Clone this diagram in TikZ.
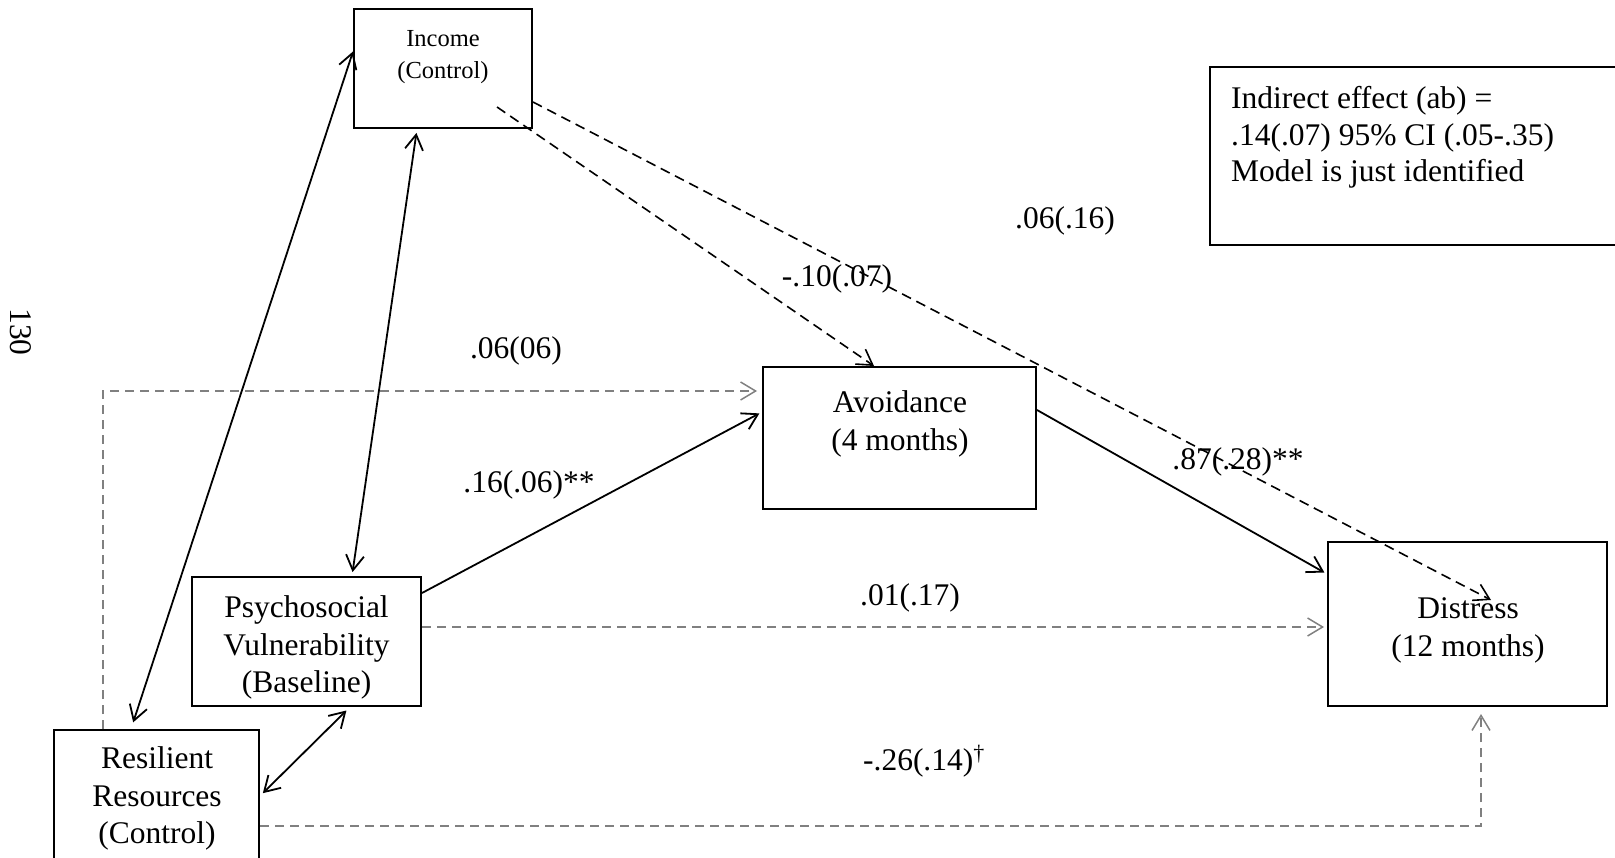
\documentclass[tikz,border=0pt]{standalone}
\usepackage{fontspec}
\setmainfont{Liberation Serif}
\usetikzlibrary{arrows.meta,calc}
\definecolor{pathgray}{RGB}{128,128,128}
\begin{document}
\begin{tikzpicture}[x=1pt,y=-1pt,
  >={Straight Barb[length=15pt,width=18pt]},
  box/.style={draw=black,line width=2pt,inner sep=0pt,rectangle},
  boxtext/.style={font=\fontsize{31.5}{37.5}\selectfont,align=center,inner sep=0pt},
  smalltext/.style={font=\fontsize{24.5}{32}\selectfont,align=center,inner sep=0pt},
  coef/.style={font=\fontsize{31.5}{36}\selectfont,inner sep=0pt,anchor=base},
  solidpath/.style={line width=1.8pt,black},
  blackdash/.style={line width=1.6pt,black,dash pattern=on 10pt off 6pt},
  graydash/.style={line width=1.5pt,pathgray,dash pattern=on 9pt off 6pt}]

\useasboundingbox (0,0) rectangle (1615,858);
\clip (0,0) rectangle (1615,858);

% variable boxes
\node[box,minimum width=178pt,minimum height=119pt] (inc) at (443,68.5) {};
\node[smalltext] (inctext) at (443,57.5) {Income\\(Control)};

\node[box,minimum width=273pt,minimum height=142pt] (avo) at (899.5,438) {};
\node[boxtext] (avotext) at (900,424) {Avoidance\\(4 months)};

\node[box,minimum width=279pt,minimum height=164pt] (dis) at (1467.5,624) {};
\node[boxtext] (distext) at (1468,630.6) {Distress\\(12 months)};

\node[box,minimum width=229pt,minimum height=129pt] (psy) at (306.5,641.5) {};
\node[boxtext] (psytext) at (306.5,647.5) {Psychosocial\\Vulnerability\\(Baseline)};

\node[box,minimum width=205pt,minimum height=170pt] (res) at (156.5,815) {};
\node[boxtext] (restext) at (157,798.6) {Resilient\\Resources\\(Control)};

% summary box
\node[box,minimum width=450pt,minimum height=178pt] (note) at (1435,156) {};
\node[font=\fontsize{31.5}{36.5}\selectfont,align=left,inner sep=0pt,anchor=north west]
  (notetext) at (1231,86.3) {Indirect effect (ab) =\\.14(.07) 95\% CI (.05-.35)\\Model is just identified};

% page number
\node[font=\fontsize{31.5}{36}\selectfont,inner sep=0pt,rotate=-90] (pagenum) at (21,332) {130};

% covariances
\draw[solidpath,<->,shorten <=7pt] ([xshift=78pt]res.north west) -- ([yshift=17pt]inc.west);
\draw[solidpath,<->,shorten <=4pt,shorten >=4pt] ([xshift=-26pt]inc.south) -- ([xshift=45.5pt]psy.north);
\draw[solidpath,<->,shorten <=5pt,shorten >=4pt] ([xshift=43.5pt]psy.south) -- ([yshift=19pt]res.east);

% structural paths
\draw[solidpath,->,shorten >=3pt] ([yshift=-17pt]psy.north east) -- ([yshift=26pt]avo.west);
\draw[solidpath,->,shorten >=3pt] ([yshift=28pt]avo.east) -- ([yshift=50pt]dis.west);
\draw[blackdash,->] ([xshift=54pt,yshift=-38.5pt]inc.center) -- ([xshift=-25.5pt]avo.north);
\draw[blackdash,->] ([yshift=-33.5pt]inc.east) -- ([xshift=23.5pt,yshift=24pt]dis.center);
\draw[graydash,->,shorten >=5pt] ([xshift=50pt]res.north west) |- ([yshift=47pt]avo.west);
\draw[graydash,->,shorten >=3pt] (psy.east |- 0,627) -- (dis.west |- 0,627);
\draw[graydash,->,shorten >=7pt] (res.east |- 0,826) -| ([xshift=13.5pt]dis.south);

% coefficients
\node[coef] (c1) at (1065,229) {.06(.16)};
\node[coef] (c2) at (837,287) {-.10(.07)};
\node[coef] (c3) at (516,359) {.06(06)};
\node[coef] (c4) at (529,492) {.16(.06)**};
\node[coef] (c5) at (1238,470) {.87(.28)**};
\node[coef] (c6) at (910,605) {.01(.17)};
\node[coef] (c7) at (924,770) {-.26(.14)\textsuperscript{\textdagger}};

\end{tikzpicture}
\end{document}
